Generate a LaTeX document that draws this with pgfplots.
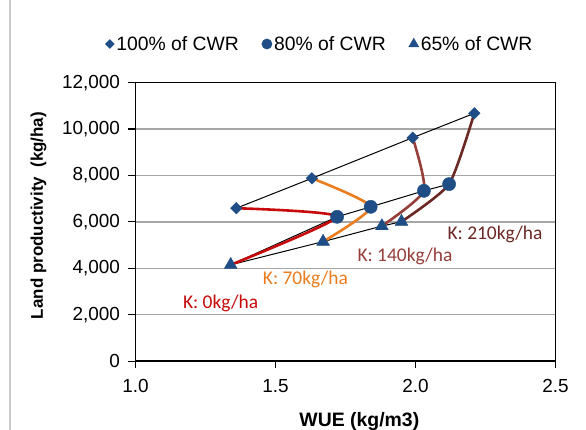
\documentclass[border=0pt]{standalone}
\usepackage{fontspec}
\setmainfont{Liberation Sans}
\newfontfamily\calibri{Carlito}
\usepackage{pgfplots}
\pgfplotsset{compat=1.18}
\definecolor{mk}{RGB}{31,78,135}
\definecolor{kzero}{RGB}{200,10,10}
\definecolor{kseventy}{RGB}{236,125,30}
\definecolor{konefourty}{RGB}{150,62,58}
\definecolor{ktwoten}{RGB}{108,40,36}
\begin{document}
\begin{tikzpicture}
\useasboundingbox (0,0) rectangle (586bp,430bp);
\fill[white] (0,0) rectangle (586bp,430bp);
\draw[gray!40, line width=1.2bp] (10bp,0) -- (10bp,430bp);
\begin{axis}[
  at={(135.5bp,68.9bp)}, anchor=south west, scale only axis,
  width=420bp, height=278.4bp,
  xmin=1, xmax=2.5, ymin=0, ymax=12000,
  xtick={1,1.5,2,2.5}, ytick={0,2000,4000,6000,8000,10000,12000},
  xticklabel style={yshift=-8bp, /pgf/number format/.cd, fixed, fixed zerofill, precision=1},
  yticklabel style={xshift=-5bp, /pgf/number format/.cd, fixed, 1000 sep={,}},
  scaled y ticks=false, scaled x ticks=false,
  /pgf/number format/assume math mode=true,
  ticklabel style={font=\fontsize{19}{21}\selectfont},
  tick align=outside, major tick length=7bp, tick style={black, line width=1.2bp},
  xtick pos=bottom, ytick pos=left,
  ymajorgrids, grid style={color=gray!70, line width=1.3bp},
  axis line style={line width=1.5bp},
  xlabel={WUE (kg/m3)}, ylabel={Land productivity\ \ (kg/ha)},
  xlabel style={font=\bfseries\fontsize{19.5}{22}\selectfont, at={(axis description cs:0.533,-0.217)}, anchor=center},
  ylabel style={font=\bfseries\fontsize{17}{20}\selectfont, at={(axis description cs:-0.231,0.523)}, anchor=center},
  legend style={at={(0.439,1.139)}, anchor=center, draw=none, fill=none,
    legend columns=3, font=\fontsize{19.4}{22}\selectfont,
    /tikz/every even column/.append style={column sep=21bp}},
  legend image code/.code={\draw[mark repeat=2,mark phase=2,#1,every mark/.append style={scale=0.78}] plot coordinates {(0bp,0bp)(5bp,0bp)(10bp,0bp)};},
  clip=false,
]
% series lines (black)
\addplot[black, line width=1bp, forget plot] coordinates {(1.36,6590)(1.63,7880)(1.99,9630)(2.21,10680)};
\addplot[black, line width=1bp, forget plot] coordinates {(1.34,4150)(1.72,6220)(1.84,6650)(2.03,7340)(2.12,7630)};
\addplot[black, line width=1bp, forget plot] coordinates {(1.34,4150)(1.67,5150)(1.88,5820)(1.95,6010)};
% potassium curves
\addplot[kzero, line width=2.6bp, smooth, tension=0.35, forget plot] coordinates {(1.34,4150)(1.72,6220)(1.36,6590)};
\addplot[kseventy, line width=2.6bp, smooth, tension=0.35, forget plot] coordinates {(1.67,5150)(1.84,6650)(1.63,7880)};
\addplot[konefourty, line width=2.6bp, smooth, tension=0.35, forget plot] coordinates {(1.88,5820)(2.03,7340)(1.99,9630)};
\addplot[ktwoten, line width=2.6bp, smooth, tension=0.35, forget plot] coordinates {(1.95,6010)(2.12,7630)(2.21,10680)};
% markers
\addplot[only marks, mark=square*, mark size=4.1bp, mark options={rotate=45, fill=mk, draw=mk}] coordinates {(1.36,6590)(1.63,7880)(1.99,9630)(2.21,10680)};
\addlegendentry{100\% of CWR}
\addplot[only marks, mark=*, mark size=6.6bp, mark options={fill=mk, draw=mk}] coordinates {(1.72,6220)(1.84,6650)(2.03,7340)(2.12,7630)};
\addlegendentry{80\% of CWR}
\addplot[only marks, mark=triangle*, mark size=7.4bp, mark options={fill=mk, draw=mk}] coordinates {(1.34,4150)(1.67,5150)(1.88,5820)(1.95,6010)};
\addlegendentry{65\% of CWR}
% labels
\node[font=\calibri\fontsize{19.5}{22}\selectfont, text=kzero] at (axis cs:1.304,2504) {K: 0kg/ha};
\node[font=\calibri\fontsize{19.5}{22}\selectfont, text=kseventy] at (axis cs:1.607,3539) {K: 70kg/ha};
\node[font=\calibri\fontsize{19.5}{22}\selectfont, text=konefourty] at (axis cs:1.9625,4500) {K: 140kg/ha};
\node[font=\calibri\fontsize{19.5}{22}\selectfont, text=ktwoten] at (axis cs:2.284,5478) {K: 210kg/ha};
\end{axis}
\end{tikzpicture}
\end{document}
